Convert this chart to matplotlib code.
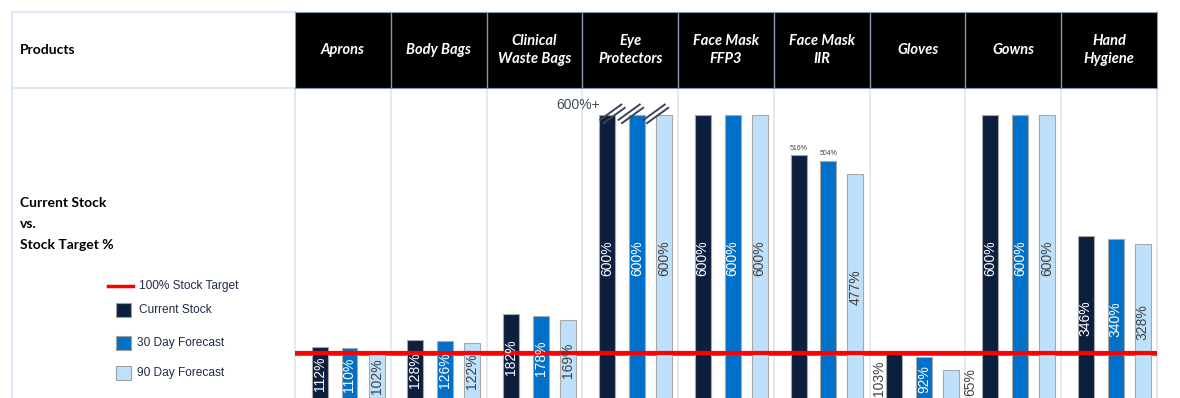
import matplotlib.pyplot as plt
from matplotlib.patches import Rectangle

products = ["Aprons", "Body Bags", "Clinical\nWaste Bags", "Eye\nProtectors",
            "Face Mask\nFFP3", "Face Mask\nIIR", "Gloves", "Gowns", "Hand\nHygiene"]
current_stock = [112, 128, 182, 600, 600, 516, 103, 600, 346]
forecast_30 = [110, 126, 178, 600, 600, 504, 92, 600, 340]
forecast_90 = [102, 122, 169, 600, 600, 477, 65, 600, 328]
series_names = ["Current Stock", "30 Day Forecast", "90 Day Forecast"]
target_name = "100% Stock Target"
target = 100
cap_text = "600%+"
side_title = ["Current Stock", "vs.", "Stock Target %"]

# labels that sit outside their bar: (product, series) -> where
label_spots = {(5, 0): "above", (5, 1): "above", (6, 0): "left", (6, 2): "right"}

NAVY = "#0c1f3f"
BLUE = "#0070c9"
PALE = "#bfe0fb"
GRID = "#dce8f6"
TXT = "#1f2b45"
ARIAL = "Liberation Sans"

W, H = 1180, 398
fig = plt.figure(figsize=(W / 100, H / 100), dpi=100)

# full-figure axes in pixel units for the table frame and left-hand text
bg = fig.add_axes([0, 0, 1, 1])
bg.set_xlim(0, W)
bg.set_ylim(H, 0)
bg.axis("off")

x0, x1 = 295, 1157
col_w = (x1 - x0) / len(products)
bg.plot([12, x0], [12, 12], color=GRID, lw=1.5)
bg.plot([12, x1], [88, 88], color=GRID, lw=1.5)
bg.plot([12, 12], [12, H], color=GRID, lw=1.5)
bg.plot([x1, x1], [12, H], color=GRID, lw=1.5)
for i in range(len(products) + 1):
    bg.plot([x0 + i * col_w] * 2, [88, H], color=GRID, lw=1.2)

bg.text(20, 50, "Products", fontsize=10, fontweight="bold", family="Lato",
        color="black", va="center")
for line, y in zip(side_title, [203, 224, 245]):
    bg.text(20, y, line, fontsize=10, fontweight="bold", family="Lato",
            color="black", va="center")

# legend
colors = [NAVY, BLUE, PALE]
bg.plot([108, 133], [287, 287], color="#2e75d0", lw=1.5)
bg.plot([108, 133], [285.5, 285.5], color="red", lw=2.5)
bg.text(139, 286, target_name, fontsize=8.6, family=ARIAL,
        color=TXT, va="center")
leg_y = [310, 343, 373]
for c, name, y in zip(colors, series_names, leg_y):
    bg.add_patch(Rectangle((116, y - 7), 15, 14, facecolor=c,
                           edgecolor="#a0a0a0", lw=0.8))
    bg.text(137 + (2 if y == 310 else 0), y, name, fontsize=8.6,
            family=ARIAL, color=TXT, va="center")

# header row
hx = fig.add_axes([x0 / W, 1 - 88 / H, (x1 - x0) / W, 76 / H])
hx.set_xlim(0, len(products))
hx.set_ylim(0, 1)
hx.set_facecolor("black")
hx.set_xticks([])
hx.set_yticks([])
for s in hx.spines.values():
    s.set_color("#8797ac")
for i in range(1, len(products)):
    hx.axvline(i, color="#8797ac", lw=1)
for i, p in enumerate(products):
    hx.text(i + 0.5, 0.5, p, color="white", fontsize=10.5, family="Lato",
            fontweight="bold", style="italic", ha="center", va="center",
            linespacing=1.3)

# bars
px_per_pct = 0.476
zero_px = 400.6
ax = fig.add_axes([x0 / W, 0, (x1 - x0) / W, (H - 88) / H])
ax.set_xlim(0, len(products))
ax.set_ylim((zero_px - H) / px_per_pct, (zero_px - 88) / px_per_pct)
ax.axis("off")

offsets = [-0.243, 0.069, 0.351]
bw = 0.167
label_colors = ["white", "white", "#404040"]
series = [current_stock, forecast_30, forecast_90]
lab_size = 10

ax.axhline(target - 3.5, color="#2e75d0", lw=1.3, zorder=1)
for k, (vals, c) in enumerate(zip(series, colors)):
    xs = [i + 0.5 + offsets[k] for i in range(len(products))]
    ax.bar(xs, vals, bw, color=c, edgecolor="#a8a8a8", lw=0.8, zorder=2)
    for i, (x, v) in enumerate(zip(xs, vals)):
        spot = label_spots.get((i, k))
        txt = f"{v}%"
        if spot == "above":
            ax.text(x, v + 7, txt, fontsize=5, color="#404040", family=ARIAL,
                    ha="center", va="bottom", zorder=4)
        elif spot == "left":
            ax.text(x - 0.16, 48, txt, fontsize=lab_size, rotation=90,
                    family=ARIAL, color="#404040", ha="center", va="center",
                    zorder=4)
        elif spot == "right":
            ax.text(x + 0.2, 39, txt, fontsize=lab_size, rotation=90,
                    family=ARIAL, color="#404040", ha="center", va="center",
                    zorder=4)
        else:
            ax.text(x, v / 2, txt, fontsize=lab_size, rotation=90,
                    family=ARIAL, color=label_colors[k], ha="center",
                    va="center", zorder=4)

ax.axhline(target, color="red", lw=3, zorder=3)

# axis break marks on the first capped group
cap = max(current_stock)
g = products.index("Eye\nProtectors")
mark_shift = [-0.07, -0.19, -0.21]
for k in range(3):
    xs = g + 0.5 + offsets[k] + mark_shift[k]
    for d in (0, 1):
        ax.plot([xs + d * 0.035, xs + 0.22 + d * 0.035],
                [cap - 10 - d * 7, cap + 22 - d * 7],
                color="#3a4555", lw=1.4, zorder=5, clip_on=False)
ax.text(g + 0.5 + offsets[0] - bw / 2 + 0.01, cap + 22, cap_text, fontsize=10,
        color="#404a5a", ha="right", va="center", family=ARIAL)

fig.savefig("out.png", dpi=100)
